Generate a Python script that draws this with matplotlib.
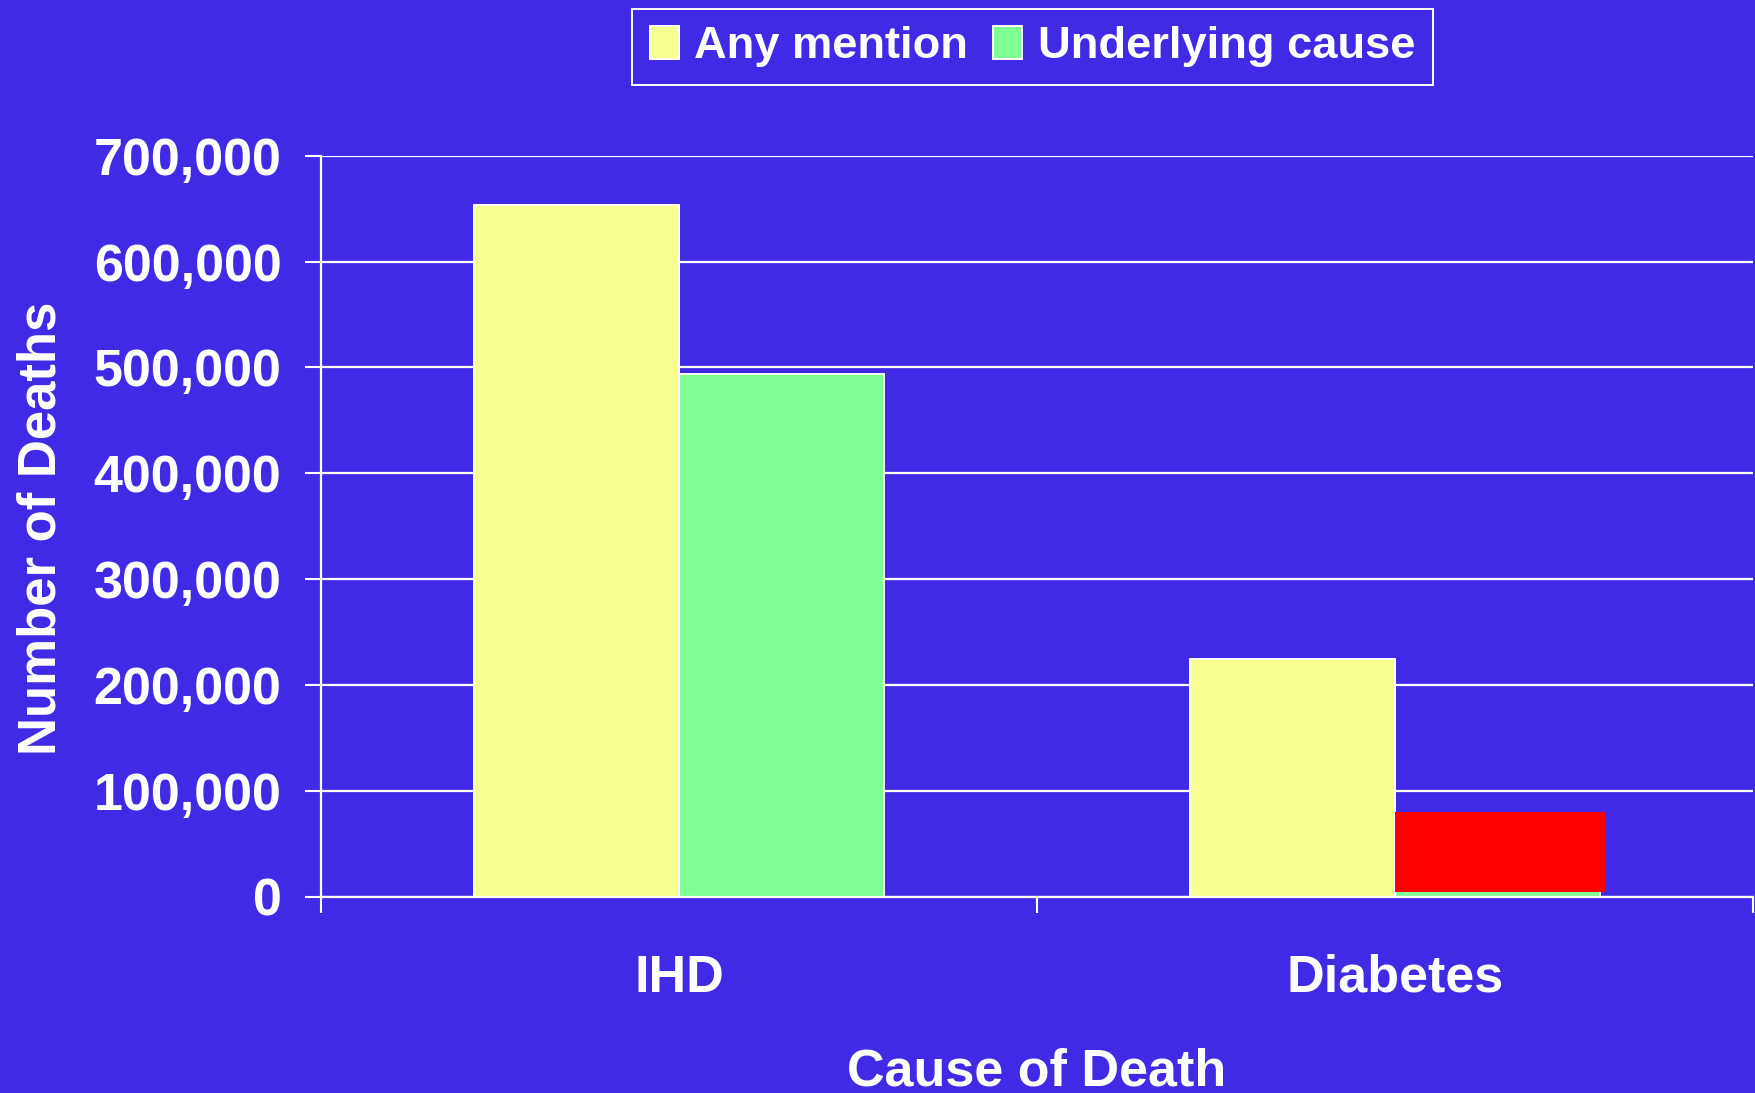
"""
===========================================================
Deaths by Cause: Any mention vs Underlying cause
===========================================================
"""

import numpy as np

import matplotlib.pyplot as plt
from matplotlib.patches import Rectangle
from matplotlib.ticker import FuncFormatter

# ==========================================================
# Data
# ==========================================================

causes = ["IHD", "Diabetes"]

any_mention = [653000, 225000]

underlying_cause = [494000, 73000]

series_names = ["Any mention", "Underlying cause"]

y_ticks = [0, 100000, 200000, 300000, 400000, 500000, 600000, 700000]

# red box laid over the diabetes underlying-cause bar (y range)
red_box_range = [4700, 80300]

# ==========================================================
# Style
# ==========================================================

BG = "#402AE6"
YELLOW = "#F6FF8E"
GREEN = "#80FF94"
WHITE = "white"

plt.rcParams["font.family"] = ["Liberation Sans", "DejaVu Sans"]
plt.rcParams["font.weight"] = "bold"

fig = plt.figure(figsize=(17.55, 10.93), dpi=100, facecolor=BG)

ax = fig.add_axes([321 / 1755, 1 - 896.7 / 1093, 1432 / 1755, 741 / 1093])

ax.set_facecolor(BG)

# ==========================================================
# Bars
# ==========================================================

x = np.arange(len(causes))

width = 0.2866

ax.bar(x - width / 2, any_mention, width, color=YELLOW,
       edgecolor=WHITE, linewidth=1.4, label=series_names[0], zorder=3)

ax.bar(x + width / 2, underlying_cause, width, color=GREEN,
       edgecolor=WHITE, linewidth=1.4, label=series_names[1], zorder=3)

# red overlay on the diabetes underlying cause bar
ax.add_patch(Rectangle((x[1], red_box_range[0]), width * 1.03,
                       red_box_range[1] - red_box_range[0],
                       facecolor="#FF0000", edgecolor="none", zorder=4))

# ==========================================================
# Axes
# ==========================================================

ax.set_xlim(-0.5, len(causes) - 0.5)

ax.set_ylim(0, 700000)

ax.set_yticks(y_ticks)

ax.yaxis.set_major_formatter(FuncFormatter(lambda v, p: f"{int(v):,}"))

ax.set_xticks(np.arange(len(causes) + 1) - 0.5)
ax.set_xticklabels([])

ax.set_xticks(x, minor=True)
ax.set_xticklabels(causes, minor=True)

ax.tick_params(axis="y", direction="out", length=11.5, width=1.5,
               color=WHITE, labelcolor=WHITE, labelsize=37.5, pad=17)

ax.tick_params(axis="x", which="major", direction="out", length=11.5,
               width=1.5, color=WHITE)

ax.tick_params(axis="x", which="minor", length=0, labelcolor=WHITE,
               labelsize=37.5, pad=41)

ax.grid(axis="y", color=WHITE, linewidth=1.6, zorder=0)
ax.set_axisbelow(True)

for side in ["top", "right"]:
    ax.spines[side].set_visible(False)

for side in ["left", "bottom"]:
    ax.spines[side].set_color(WHITE)
    ax.spines[side].set_linewidth(1.6)
    ax.spines[side].set_zorder(5)

# ==========================================================
# Labels
# ==========================================================

fig.text(42 / 1755, 1 - 528 / 1093, "Number of Deaths", rotation=90,
         ha="center", va="center", color=WHITE, fontsize=38,
         fontweight="bold")

fig.text(1037 / 1755, 1 - 1085 / 1093, "Cause of Death", ha="center",
         va="baseline", color=WHITE, fontsize=37.5, fontweight="bold")

# ==========================================================
# Legend
# ==========================================================

leg = fig.legend(loc="upper center", bbox_to_anchor=(1032.5 / 1755, 1 - 9 / 1093),
                 ncol=2, fontsize=32.6, frameon=True, fancybox=False,
                 facecolor=BG, edgecolor=WHITE, framealpha=1,
                 handlelength=0.64, handleheight=0.73, handletextpad=0.35,
                 columnspacing=0.55, borderpad=0.38, borderaxespad=0)

leg.get_frame().set_linewidth(1.4)

for t in leg.get_texts():
    t.set_color(WHITE)

fig.savefig("out.png", dpi=100, facecolor=BG)
